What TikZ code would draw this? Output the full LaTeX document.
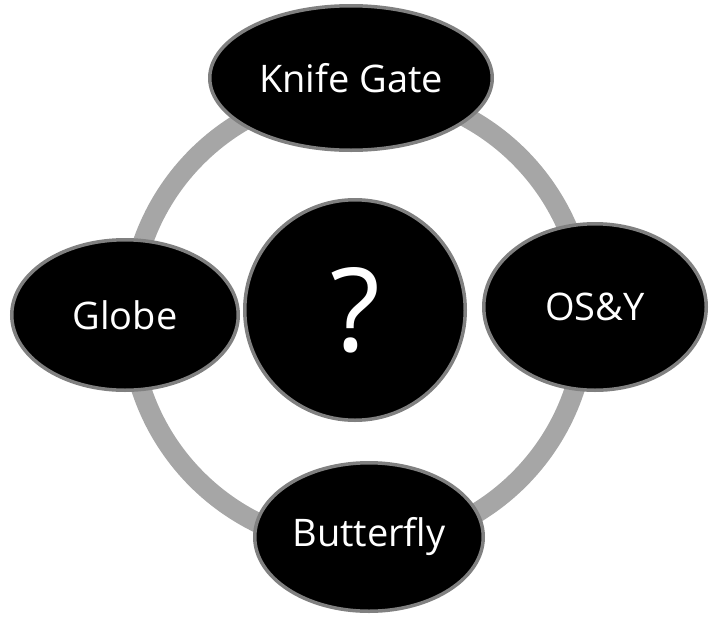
\documentclass[tikz,border=0pt]{standalone}
\usepackage{fontspec}
\setmainfont{Open Sans}
\usetikzlibrary{shapes.geometric}
\definecolor{ringgray}{RGB}{166,166,166}
\definecolor{rimgray}{RGB}{128,128,128}
\begin{document}
\begin{tikzpicture}[x=1pt,y=-1pt,
  bubble/.style={ellipse, fill=black, draw=rimgray, line width=3.5pt, text=white,
    font=\fontsize{38}{40}\selectfont, inner sep=0pt},
  hub/.style={circle, fill=black, draw=rimgray, line width=3.5pt, text=white,
    font=\fontsize{116}{120}\selectfont, inner sep=0pt}
]
\useasboundingbox (0,0) rectangle (709,616);
\coordinate (ringc) at (358,318);
\draw[ringgray, line width=20pt] (ringc) circle[radius=228];
\node[bubble, minimum width=282.5, minimum height=144.5] (knife) at (351,78) {Knife Gate};
\node[bubble, minimum width=222.5, minimum height=166.5] (osy) at (595,307) {OS\&Y};
\node[bubble, minimum width=226.5, minimum height=150.5] (globe) at (125,315) {Globe};
\node[bubble, minimum width=228.5, minimum height=148.5] (bfly) at (369,537) {Butterfly};
\node[hub, minimum size=220.5] (hub) at (355,310) {?};
\end{tikzpicture}
\end{document}
